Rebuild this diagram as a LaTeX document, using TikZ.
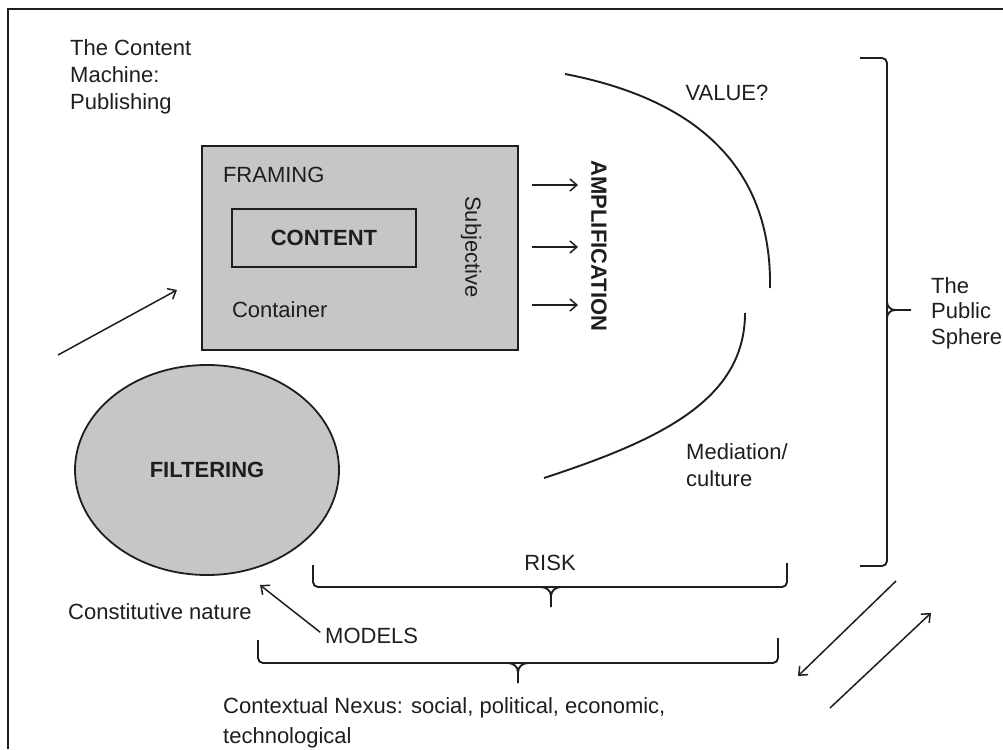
\documentclass[tikz,border=0pt]{standalone}
\usepackage{fontspec}
\setmainfont{Liberation Sans}
\usetikzlibrary{arrows.meta, positioning, shapes.geometric}
\definecolor{boxgray}{RGB}{198,198,198}
\definecolor{ink}{RGB}{30,30,30}

\begin{document}
\begin{tikzpicture}[
        x=1pt, y=-1pt, ink, text=ink,
        lbl/.style={inner sep=0pt, align=left, font=\fontsize{22}{27}\selectfont},
        bold lbl/.style={lbl, font=\fontsize{22}{27}\selectfont\bfseries},
        arr/.style={-{Straight Barb[length=7pt,width=12pt]}, line width=1.5pt},
        brk/.style={line width=1.9pt, rounded corners=5pt},
        curve/.style={line width=1.9pt},
        ]

        \useasboundingbox (0,0) rectangle (1003,749);
        \draw[line width=2.2pt] (8,749) -- (8,9) -- (1003,9);

        % publishing side
        \node[lbl, anchor=north west] (publish) at (70,39) {The Content\\Machine:\\Publishing};
        \node[draw, fill=boxgray, line width=1.8pt, minimum width=316pt, minimum height=204pt] (machine) at (360,248) {};
        \node[draw, line width=2.4pt, minimum width=184pt, minimum height=58pt, inner sep=0pt] (content) at (324,238) {};
        \node[bold lbl] at (content) {CONTENT};
        \node[lbl, above right=25pt and -8pt of content.north west] (framing) {FRAMING};
        \node[lbl, below right=33pt and 1pt of content.south west] (container) {Container};
        \node[lbl, rotate=-90] (subj) at (471,247) {Subjective};
        \node[bold lbl, rotate=-90] (amp) at (599,246) {AMPLIFICATION};
        \foreach \y in {185,247,305}
          \draw[arr, shorten <=13pt, shorten >=13pt] (machine.east |- 0,\y) -- (amp.south |- 0,\y);

        \coordinate (in0) at (58,355);
        \coordinate (in1) at (177,290);
        \draw[arr] (in0) -- (in1);

        \node[draw, ellipse, fill=boxgray, line width=1.8pt, minimum width=264pt, minimum height=210pt, inner sep=0pt] (filter) at (207,470) {};
        \node[bold lbl] at (filter) {FILTERING};

        % value / mediation curves
        \draw[curve] (565,74) .. controls (700,100) and (772,170) .. (770,288);
        \draw[curve] (745,313) .. controls (745,400) and (660,440) .. (544,478);
        \node[lbl] (value) at (727,93) {VALUE?};
        \node[lbl, anchor=north west] (media) at (686,443) {Mediation/\\culture};

        % public sphere bracket
        \draw[brk] (860,58) -| (887,566) -- (860,566);
        \draw[curve] (887,302) to[out=-90,in=180] (895,310) -- (911,310);
        \draw[curve] (887,318) to[out=90,in=180] (895,310);
        \node[lbl, anchor=north west, font=\fontsize{22}{25.5}\selectfont] (sphere) at (931,277) {The\\Public\\Sphere};

        % risk
        \node[lbl] (risk) at (550,563) {RISK};
        \draw[brk] (313,565) |- (787,587) -- (787,563);
        \draw[curve] (541,587) to[out=0,in=90] (551,596) -- (551,607);
        \draw[curve] (561,587) to[out=180,in=90] (551,596);

        % models and context
        \node[lbl, anchor=west] (const) at (68,612) {Constitutive nature};
        \node[lbl, anchor=west] (models) at (325,636) {MODELS};
        \coordinate (mtip) at (260,585);
        \draw[arr, shorten <=6pt] (models.west) -- (mtip);
        \draw[brk] (258,640) |- (778,663) -- (778,638);
        \draw[curve] (508,663) to[out=0,in=90] (518,672) -- (518,683);
        \draw[curve] (528,663) to[out=180,in=90] (518,672);
        \node[lbl, anchor=north west, font=\fontsize{22}{30}\selectfont] (nexus) at (223,697)
          {Contextual Nexus: social, political, economic,\\technological};

        \coordinate (out0) at (896,581);
        \coordinate (out1) at (798,676);
        \coordinate (back0) at (830,708);
        \coordinate (back1) at (931,613);
        \draw[arr] (out0) -- (out1);
        \draw[arr] (back0) -- (back1);
      \end{tikzpicture}
\end{document}
